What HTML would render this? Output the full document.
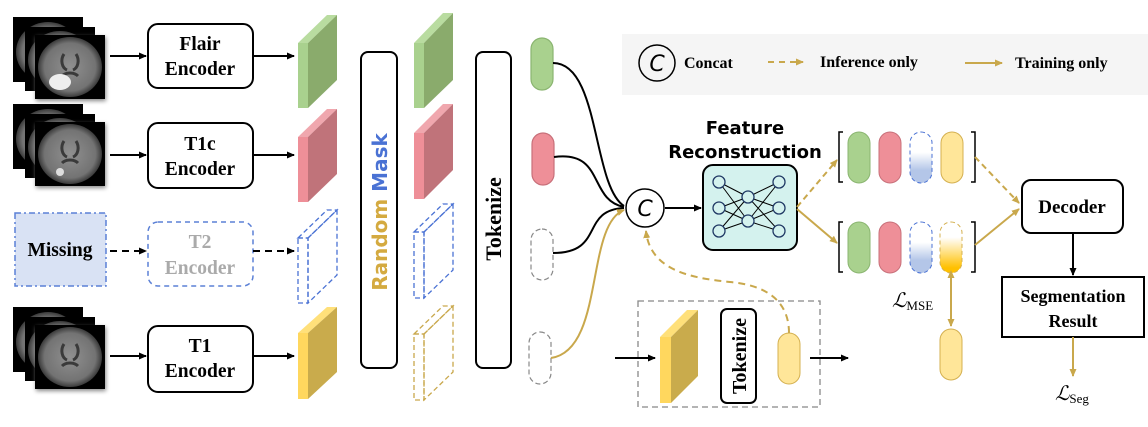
<!DOCTYPE html>
<html><head><meta charset="utf-8"><style>
html,body{margin:0;padding:0;background:#fff;}
svg{display:block;}
.s{font-family:"Liberation Serif",serif;font-weight:bold;}
.c{font-family:"DejaVu Sans",sans-serif;font-weight:bold;}
</style></head><body>
<svg width="1148" height="427" viewBox="0 0 1148 427" xmlns="http://www.w3.org/2000/svg">
<defs>
<marker id="ab" markerWidth="8" markerHeight="8" refX="7" refY="4" orient="auto" markerUnits="userSpaceOnUse"><path d="M0,0.5 L8,4 L0,7.5z" fill="#000"/></marker>
<marker id="ag" markerWidth="8" markerHeight="8" refX="7" refY="4" orient="auto" markerUnits="userSpaceOnUse"><path d="M0,0.5 L8,4 L0,7.5z" fill="#c9a84c"/></marker>
<marker id="ags" markerWidth="8" markerHeight="8" refX="1" refY="4" orient="auto-start-reverse" markerUnits="userSpaceOnUse"><path d="M0,0.5 L8,4 L0,7.5z" fill="#c9a84c"/></marker>
<radialGradient id="br" cx="50%" cy="50%" r="50%"><stop offset="0" stop-color="#909090"/><stop offset="0.8" stop-color="#737373"/><stop offset="1" stop-color="#3a3a3a"/></radialGradient>
<linearGradient id="gb" x1="0" y1="0" x2="0" y2="1"><stop offset="0.4" stop-color="#fff"/><stop offset="0.75" stop-color="#b4c6e8"/></linearGradient>
<linearGradient id="gy" x1="0" y1="0" x2="0" y2="1"><stop offset="0.3" stop-color="#fff"/><stop offset="0.9" stop-color="#ffc000"/></linearGradient>
</defs>

<!-- legend -->
<rect x="622" y="34" width="526" height="61" fill="#f5f5f5"/>
<circle cx="657" cy="63" r="18" fill="none" stroke="#000" stroke-width="1.5"/>
<text x="657" y="71" font-family="DejaVu Sans,sans-serif" font-style="italic" font-size="22" text-anchor="middle">C</text>
<text x="684" y="68" class="s" font-size="16">Concat</text>
<line x1="768" y1="62" x2="803" y2="62" stroke="#c9a84c" stroke-width="2" stroke-dasharray="6,5" marker-end="url(#ag)"/>
<text x="820" y="67" class="s" font-size="16">Inference only</text>
<line x1="965" y1="63" x2="1002" y2="63" stroke="#c9a84c" stroke-width="2" marker-end="url(#ag)"/>
<text x="1015" y="68" class="s" font-size="16">Training only</text>

<!-- brain stacks -->
<g>
<g id="stk">
<rect x="13" y="17" width="70" height="65" fill="#000"/><ellipse cx="48" cy="52" rx="32" ry="30" fill="url(#br)"/>
<rect x="25" y="27" width="70" height="64" fill="#000"/><ellipse cx="60" cy="60" rx="32" ry="29" fill="url(#br)"/>
<rect x="35" y="35" width="70" height="64" fill="#000" style="filter:drop-shadow(1px 2px 2px #888)"/><ellipse cx="70" cy="67" rx="32" ry="30" fill="url(#br)"/>
<path d="M64,54 C60,60 62,68 67,70 M76,54 C80,60 78,68 73,70 M62,76 C66,72 74,72 78,76" fill="none" stroke="#3a3a3a" stroke-width="3"/>
</g>
<ellipse cx="60" cy="82" rx="11" ry="8" fill="#eee"/>
<use href="#stk" transform="translate(0,87)"/>
<circle cx="60" cy="172" r="4" fill="#ddd"/>
<use href="#stk" transform="translate(0,290)"/>
</g>

<!-- encoders -->
<g class="s" font-size="19.5" text-anchor="middle">
<rect x="148" y="24" width="105" height="64" rx="10" fill="#fff" stroke="#000" stroke-width="2"/>
<text x="200" y="50">Flair</text><text x="200" y="75">Encoder</text>
<rect x="148" y="123" width="105" height="65" rx="10" fill="#fff" stroke="#000" stroke-width="2"/>
<text x="200" y="150">T1c</text><text x="200" y="175">Encoder</text>
<rect x="148" y="222" width="105" height="64" rx="10" fill="none" stroke="#5b80d6" stroke-width="1.5" stroke-dasharray="5,4"/>
<text x="200" y="248" fill="#aaa">T2</text><text x="200" y="274" fill="#aaa">Encoder</text>
<rect x="148" y="326" width="105" height="66" rx="10" fill="#fff" stroke="#000" stroke-width="2"/>
<text x="200" y="352">T1</text><text x="200" y="377">Encoder</text>
<rect x="15" y="213" width="91" height="73" fill="#d9e2f4" stroke="#5b80d6" stroke-width="1.5" stroke-dasharray="6,3,2,3"/>
<text x="60" y="256">Missing</text>
</g>
<g stroke="#000" stroke-width="2">
<line x1="110" y1="56" x2="146" y2="56" marker-end="url(#ab)"/>
<line x1="253" y1="56" x2="294" y2="56" marker-end="url(#ab)"/>
<line x1="110" y1="155" x2="146" y2="155" marker-end="url(#ab)"/>
<line x1="253" y1="155" x2="294" y2="155" marker-end="url(#ab)"/>
<line x1="110" y1="251" x2="146" y2="251" stroke-dasharray="7,5" marker-end="url(#ab)"/>
<line x1="253" y1="251" x2="294" y2="251" stroke-dasharray="7,5" marker-end="url(#ab)"/>
<line x1="110" y1="356" x2="146" y2="356" marker-end="url(#ab)"/>
<line x1="253" y1="356" x2="294" y2="356" marker-end="url(#ab)"/>
</g>

<!-- feature blocks col1 -->
<g>
<polygon points="298,43 327,15 337,15 308,43" fill="#b9dca0"/><rect x="298" y="43" width="10" height="65" fill="#a9d18e"/><polygon points="308,43 337,15 337,80 308,108" fill="#8aab6c"/>
<polygon points="298,137 327,109 337,109 308,137" fill="#f0a7ae"/><rect x="298" y="137" width="10" height="65" fill="#ee8f98"/><polygon points="308,137 337,109 337,174 308,202" fill="#c0737a"/>
<g fill="none" stroke="#4a72d4" stroke-width="1.3" stroke-dasharray="5,3"><polygon points="298,238 327,210 337,210 308,238"/><rect x="298" y="238" width="10" height="65"/><polygon points="308,238 337,210 337,275 308,303"/></g>
<polygon points="298,333 327,307 337,307 308,333" fill="#ffe07a"/><rect x="298" y="333" width="10" height="66" fill="#ffd75e"/><polygon points="308,333 337,307 337,372 308,399" fill="#c9ab4c"/>
</g>
<!-- col2 -->
<g>
<polygon points="414,43 443,13 453,13 424,43" fill="#b9dca0"/><rect x="414" y="43" width="10" height="65" fill="#a9d18e"/><polygon points="424,43 453,13 453,80 424,108" fill="#8aab6c"/>
<polygon points="414,133 443,104 453,104 424,133" fill="#f0a7ae"/><rect x="414" y="133" width="10" height="66" fill="#ee8f98"/><polygon points="424,133 453,104 453,170 424,199" fill="#c0737a"/>
<g fill="none" stroke="#4a72d4" stroke-width="1.3" stroke-dasharray="5,3"><polygon points="414,232 443,204 453,204 424,232"/><rect x="414" y="232" width="10" height="66"/><polygon points="424,232 453,204 453,270 424,298"/></g>
<g fill="none" stroke="#c9a84c" stroke-width="1.3" stroke-dasharray="5,3"><polygon points="414,334 443,306 453,306 424,334"/><rect x="414" y="334" width="10" height="66"/><polygon points="424,334 453,306 453,372 424,400"/></g>
</g>

<!-- random mask / tokenize -->
<rect x="361" y="52" width="36" height="316" rx="7" fill="#fff" stroke="#000" stroke-width="2"/>
<text transform="translate(387,212) rotate(-90)" class="c" font-size="20" text-anchor="middle"><tspan fill="#d4aa40">Random </tspan><tspan fill="#4a72d4">Mask</tspan></text>
<rect x="476" y="52" width="35" height="316" rx="7" fill="#fff" stroke="#000" stroke-width="2"/>
<text transform="translate(501,219) rotate(-90)" class="s" font-size="22" text-anchor="middle">Tokenize</text>

<!-- tokens -->
<rect x="531" y="38" width="22" height="52" rx="11" fill="#a9d18e" stroke="#8ab570" stroke-width="1.2"/>
<rect x="532" y="133" width="22" height="52" rx="11" fill="#ee8f98" stroke="#c8707a" stroke-width="1.2"/>
<rect x="531" y="229" width="22" height="51" rx="11" fill="none" stroke="#888" stroke-width="1.2" stroke-dasharray="5,3"/>
<rect x="529" y="332" width="22" height="52" rx="11" fill="none" stroke="#888" stroke-width="1.2" stroke-dasharray="5,3"/>

<g fill="none" stroke-width="2">
<path d="M553,63 C600,63 592,185 624,206" stroke="#000"/>
<path d="M554,157 C605,150 588,200 624,207" stroke="#000"/>
<path d="M553,253 C605,253 580,210 624,208" stroke="#000"/>
<path d="M551,358 C605,350 585,225 624,210" stroke="#c9a84c" marker-end="url(#ag)"/>
</g>
<circle cx="645" cy="208" r="19" fill="#fff" stroke="#000" stroke-width="1.5"/>
<text x="645" y="216" font-family="DejaVu Sans,sans-serif" font-style="italic" font-size="22" text-anchor="middle">C</text>
<line x1="665" y1="208" x2="701" y2="208" stroke="#000" stroke-width="2" marker-end="url(#ab)"/>

<!-- feature reconstruction -->
<text x="745" y="134" class="c" font-size="18" text-anchor="middle">Feature</text>
<text x="745" y="158" class="c" font-size="18" text-anchor="middle">Reconstruction</text>
<rect x="703" y="165" width="94" height="85" rx="10" fill="#d4f2ee" stroke="#000" stroke-width="2"/>
<g stroke="#000" stroke-width="1">
<path d="M719,182 L748,197 M719,182 L748,221 M719,208 L748,197 M719,208 L748,221 M719,231 L748,197 M719,231 L748,221 M779,182 L748,197 M779,182 L748,221 M779,208 L748,197 M779,208 L748,221 M779,231 L748,197 M779,231 L748,221"/>
</g>
<g fill="#d4f2ee" stroke="#1f3864" stroke-width="1.3">
<circle cx="719" cy="182" r="6"/><circle cx="719" cy="208" r="6"/><circle cx="719" cy="231" r="6"/>
<circle cx="748" cy="197" r="6"/><circle cx="748" cy="221" r="6"/>
<circle cx="779" cy="182" r="6"/><circle cx="779" cy="208" r="6"/><circle cx="779" cy="231" r="6"/>
</g>
<line x1="797" y1="207" x2="837" y2="160" stroke="#c9a84c" stroke-width="2" stroke-dasharray="6,4" marker-end="url(#ag)"/>
<line x1="797" y1="209" x2="837" y2="243" stroke="#c9a84c" stroke-width="2" marker-end="url(#ag)"/>

<!-- token rows -->
<g fill="none" stroke="#000" stroke-width="1.5">
<path d="M843,132 L839,132 L839,182 L843,182"/><path d="M971,132 L975,132 L975,182 L971,182"/>
<path d="M843,222 L839,222 L839,272 L843,272"/><path d="M971,222 L975,222 L975,272 L971,272"/>
</g>
<rect x="848" y="132" width="22" height="51" rx="11" fill="#a9d18e" stroke="#8ab570"/>
<rect x="879" y="132" width="22" height="51" rx="11" fill="#ee8f98" stroke="#c8707a"/>
<rect x="910" y="132" width="22" height="51" rx="11" fill="url(#gb)" stroke="#4a72d4" stroke-dasharray="4,3"/>
<rect x="941" y="132" width="22" height="51" rx="11" fill="#ffe699" stroke="#d4b050"/>
<rect x="848" y="222" width="22" height="51" rx="11" fill="#a9d18e" stroke="#8ab570"/>
<rect x="879" y="222" width="22" height="51" rx="11" fill="#ee8f98" stroke="#c8707a"/>
<rect x="910" y="222" width="22" height="51" rx="11" fill="url(#gb)" stroke="#4a72d4" stroke-dasharray="4,3"/>
<rect x="940" y="222" width="22" height="51" rx="11" fill="url(#gy)" stroke="#d4b050" stroke-dasharray="4,3"/>
<line x1="975" y1="157" x2="1019" y2="203" stroke="#c9a84c" stroke-width="2" stroke-dasharray="6,4" marker-end="url(#ag)"/>
<line x1="975" y1="245" x2="1019" y2="209" stroke="#c9a84c" stroke-width="2" marker-end="url(#ag)"/>

<!-- decoder -->
<rect x="1022" y="180" width="101" height="53" rx="9" fill="#fff" stroke="#000" stroke-width="2"/>
<text x="1072" y="213" class="s" font-size="19" text-anchor="middle">Decoder</text>
<line x1="1073" y1="233" x2="1073" y2="275" stroke="#000" stroke-width="2" marker-end="url(#ab)"/>
<rect x="1002" y="277" width="142" height="60" fill="#fff" stroke="#000" stroke-width="2"/>
<text x="1073" y="302" class="s" font-size="18" text-anchor="middle">Segmentation</text>
<text x="1073" y="327" class="s" font-size="18" text-anchor="middle">Result</text>
<line x1="1073" y1="337" x2="1073" y2="376" stroke="#c9a84c" stroke-width="2" marker-end="url(#ag)"/>
<text x="1055" y="400" font-family="Liberation Serif,serif" font-style="italic" font-size="20">ℒ<tspan font-style="normal" font-size="13" dy="3">Seg</tspan></text>

<!-- MSE -->
<text x="892" y="307" font-family="Liberation Serif,serif" font-style="italic" font-size="20">ℒ<tspan font-style="normal" font-size="13" dy="3">MSE</tspan></text>
<line x1="951" y1="277" x2="951" y2="326" stroke="#c9a84c" stroke-width="2" marker-start="url(#ags)" marker-end="url(#ag)"/>
<rect x="940" y="329" width="22" height="51" rx="11" fill="#ffe699" stroke="#d4b050"/>

<!-- bottom dashed box -->
<rect x="638" y="301" width="182" height="106" fill="none" stroke="#888" stroke-width="1.3" stroke-dasharray="6,4"/>
<line x1="615" y1="358" x2="655" y2="358" stroke="#000" stroke-width="2" marker-end="url(#ab)"/>
<polygon points="660,337 687,310 698,310 671,337" fill="#ffe07a"/><rect x="660" y="337" width="11" height="66" fill="#ffd75e"/><polygon points="671,337 698,310 698,376 671,403" fill="#c9ab4c"/>
<rect x="721" y="309" width="35" height="94" rx="6" fill="#fff" stroke="#000" stroke-width="2"/>
<text transform="translate(746,356) rotate(-90)" class="s" font-size="20" text-anchor="middle">Tokenize</text>
<rect x="778" y="333" width="22" height="51" rx="11" fill="#ffe699" stroke="#d4b050"/>
<line x1="810" y1="358" x2="848" y2="358" stroke="#000" stroke-width="2" marker-end="url(#ab)"/>
<path d="M789,333 C789,300 765,285 730,282 C690,278 650,270 646,231" fill="none" stroke="#c9a84c" stroke-width="2" stroke-dasharray="7,5" marker-end="url(#ag)"/>
</svg>
</body></html>
